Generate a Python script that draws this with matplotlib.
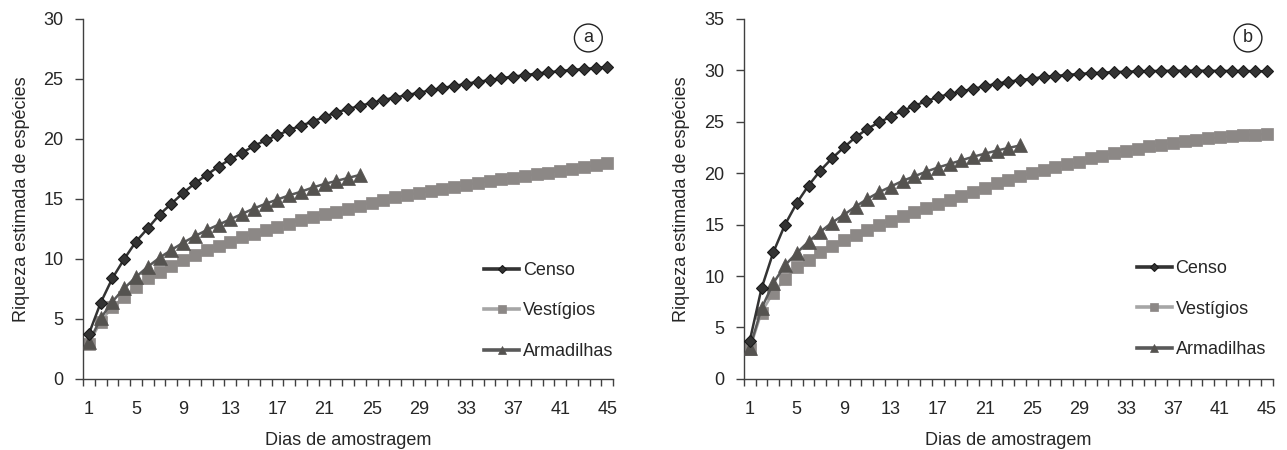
import numpy as np
import matplotlib.pyplot as plt
from matplotlib.ticker import MultipleLocator, FixedLocator

plt.rcParams['font.family'] = ['Liberation Sans', 'DejaVu Sans']

# Dias de amostragem (categorias do eixo x)
dias = list(range(1, 46))
rotulos_x = [1, 5, 9, 13, 17, 21, 25, 29, 33, 37, 41, 45]

# Painel a
censo_a = [3.75, 6.35, 8.4, 10.0, 11.45, 12.55, 13.7, 14.6, 15.5, 16.3,
           17.0, 17.7, 18.3, 18.85, 19.4, 19.9, 20.3, 20.75, 21.1, 21.45,
           21.85, 22.2, 22.5, 22.75, 23.0, 23.25, 23.45, 23.65, 23.85, 24.05,
           24.25, 24.4, 24.6, 24.75, 24.9, 25.05, 25.2, 25.3, 25.45, 25.55,
           25.65, 25.75, 25.82, 25.9, 26.0]
vestigios_a = [2.95, 4.75, 6.0, 6.86, 7.7, 8.4, 8.95, 9.45, 9.9, 10.3,
               10.75, 11.1, 11.45, 11.8, 12.1, 12.4, 12.65, 12.95, 13.25, 13.5,
               13.75, 13.95, 14.2, 14.45, 14.7, 14.92, 15.12, 15.32, 15.5, 15.68,
               15.85, 16.02, 16.18, 16.33, 16.48, 16.63, 16.78, 16.92, 17.06, 17.2,
               17.35, 17.5, 17.65, 17.82, 18.0]
armadilhas_a = [3.05, 5.05, 6.45, 7.55, 8.5, 9.35, 10.1, 10.75, 11.35, 11.9,
                12.4, 12.85, 13.3, 13.75, 14.2, 14.6, 14.95, 15.3, 15.6, 15.95,
                16.25, 16.5, 16.75, 17.0]

# Painel b
censo_b = [3.7, 8.8, 12.3, 15.0, 17.1, 18.8, 20.25, 21.45, 22.5, 23.5,
           24.3, 24.95, 25.5, 26.05, 26.55, 27.0, 27.4, 27.7, 27.95, 28.2,
           28.45, 28.7, 28.9, 29.05, 29.2, 29.35, 29.45, 29.55, 29.65, 29.72,
           29.78, 29.83, 29.87, 29.9, 29.93, 29.95, 29.96, 29.97, 29.97, 29.96,
           29.95, 29.94, 29.93, 29.92, 29.9]
vestigios_b = [2.9, 6.45, 8.4, 9.7, 10.85, 11.6, 12.3, 12.9, 13.5, 14.0,
               14.5, 14.95, 15.4, 15.8, 16.2, 16.6, 17.0, 17.4, 17.8, 18.2,
               18.6, 19.0, 19.35, 19.7, 20.0, 20.3, 20.6, 20.85, 21.1, 21.45,
               21.7, 21.95, 22.2, 22.4, 22.6, 22.77, 22.93, 23.1, 23.25, 23.4,
               23.5, 23.6, 23.68, 23.75, 23.82]
armadilhas_b = [2.98, 6.85, 9.3, 11.05, 12.25, 13.35, 14.3, 15.2, 15.95, 16.75,
                17.5, 18.15, 18.7, 19.25, 19.7, 20.15, 20.55, 20.9, 21.25, 21.6,
                21.9, 22.2, 22.45, 22.7]

# letra, series, y max, posição do eixo, âncora da legenda
paineis = [
    ('a', censo_a, vestigios_a, armadilhas_a, 30,
     [0.0645, 0.158, 0.412, 0.8], (0.743, 0.345)),
    ('b', censo_b, vestigios_b, armadilhas_b, 35,
     [0.578, 0.158, 0.411, 0.8], (0.729, 0.35)),
]

cor_texto = '#262626'
cor_eixo = '#404040'
fs = 13

fig = plt.figure(figsize=(12.87, 4.5), dpi=100)

for letra, censo, vest, arm, ymax, pos, ancora in paineis:
    ax = fig.add_axes(pos)

    ax.plot(dias, censo, color='#333333', lw=1.8, marker='D', ms=6.2,
            mfc='#333333', mec='#1a1a1a', mew=0.8, label='Censo', zorder=4)
    ax.plot(dias, vest, color='#a6a6a6', lw=1.8, marker='s', ms=8.6,
            mfc='#8c8886', mec='#8c8886', mew=0.5, label='Vestígios', zorder=2)
    ax.plot(dias[:len(arm)], arm, color='#595959', lw=1.8, marker='^', ms=9.5,
            mfc='#555350', mec='#555350', mew=0.5, label='Armadilhas', zorder=3)

    ax.set_xlim(0.5, 45.5)
    ax.set_ylim(0, ymax)

    for lado in ['top', 'right']:
        ax.spines[lado].set_visible(False)
    for lado in ['left', 'bottom']:
        ax.spines[lado].set_color(cor_eixo)
        ax.spines[lado].set_linewidth(1.0)

    ax.yaxis.set_major_locator(MultipleLocator(5))
    ax.tick_params(axis='y', direction='out', length=6, width=1.0,
                   color=cor_eixo, pad=8, labelsize=fs, labelcolor=cor_texto)

    # Eixo de categorias: rótulos no centro, marcas entre as categorias
    ax.xaxis.set_major_locator(FixedLocator(rotulos_x))
    ax.set_xticklabels([str(v) for v in rotulos_x])
    ax.xaxis.set_minor_locator(FixedLocator(np.arange(0.5, 46, 1)))
    ax.tick_params(axis='x', which='major', length=0, pad=16,
                   labelsize=fs, labelcolor=cor_texto)
    ax.tick_params(axis='x', which='minor', direction='out', length=5,
                   width=1.0, color=cor_eixo)

    ax.set_xlabel('Dias de amostragem', fontsize=fs, color=cor_texto, labelpad=10)
    ax.set_ylabel('Riqueza estimada de espécies', fontsize=fs, color=cor_texto,
                  labelpad=10)

    leg = ax.legend(loc='upper left', bbox_to_anchor=ancora, frameon=False,
                    fontsize=fs, handlelength=1.95, handletextpad=0.2,
                    labelspacing=1.3, markerscale=0.6, borderaxespad=0)
    for txt in leg.get_texts():
        txt.set_color(cor_texto)
    for linha in leg.get_lines():
        linha.set_linewidth(2.6)

    ax.text(0.953, 0.947, letra, transform=ax.transAxes, ha='center',
            va='center', fontsize=fs, color=cor_texto,
            bbox=dict(boxstyle='circle,pad=0.3', fc='white', ec='#222222',
                      lw=1.0))

fig.savefig('out.png', dpi=100)
